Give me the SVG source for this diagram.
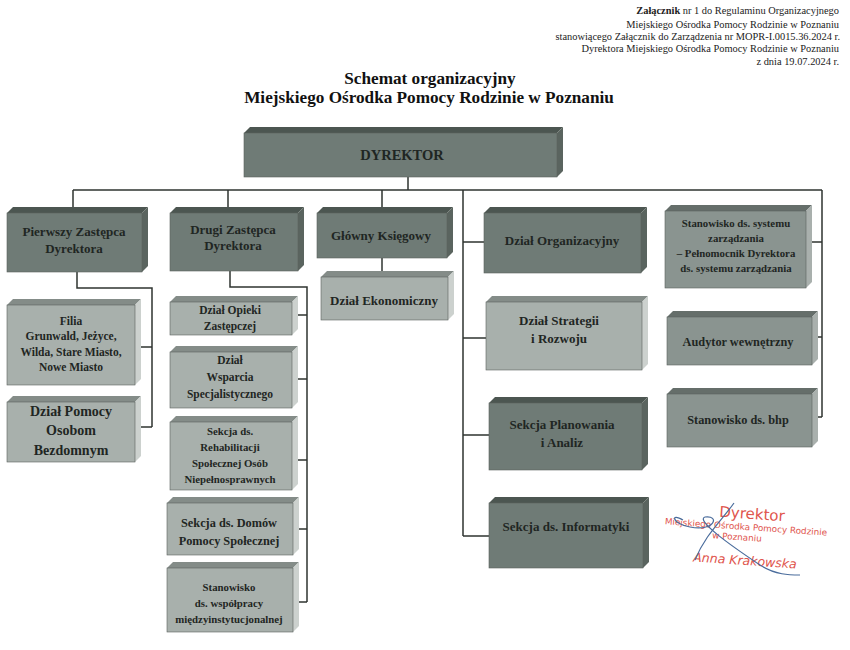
<svg xmlns="http://www.w3.org/2000/svg" width="850" height="650" viewBox="0 0 850 650">
<style>
.dk .f{fill:#6f7b76}.dk .t{fill:#4c5651}.dk .s{fill:#5a645f}
.md .f{fill:#8a9490}.md .t{fill:#656e6a}.md .s{fill:#a9b0ad}
.lt .f{fill:#a8b0ac}.lt .t{fill:#848c88}.lt .s{fill:#ccd1ce}
.f{stroke:#5a625e;stroke-width:0.6}
.lbl{font-family:"Liberation Serif",serif;font-weight:bold;fill:#1f2623;text-anchor:middle}
.hd{font-family:"Liberation Serif",serif;font-size:10.4px;fill:#222;text-anchor:end}
.ttl{font-family:"Liberation Serif",serif;font-weight:bold;font-size:17.2px;fill:#111;text-anchor:middle}
.con{fill:none;stroke:#2f3431;stroke-width:1.5}
.stamp{font-family:"DejaVu Sans",sans-serif;fill:#e0544c}
</style>
<rect width="850" height="650" fill="#fff"/>
<g id="header">
<text class="hd" x="839" y="14"><tspan font-weight="bold">Załącznik</tspan> nr 1 do Regulaminu Organizacyjnego</text>
<text class="hd" x="839" y="28">Miejskiego Ośrodka Pomocy Rodzinie w Poznaniu</text>
<text class="hd" x="840" y="40">stanowiącego Załącznik do Zarządzenia nr MOPR-I.0015.36.2024 r.</text>
<text class="hd" x="839" y="52">Dyrektora Miejskiego Ośrodka Pomocy Rodzinie w Poznaniu</text>
<text class="hd" x="839" y="65">z dnia 19.07.2024 r.</text>
</g>
<g id="title">
<text class="ttl" x="430" y="84">Schemat organizacyjny</text>
<text class="ttl" x="429" y="103">Miejskiego Ośrodka Pomocy Rodzinie w Poznaniu</text>
</g>
<g id="connectors">
<path class="con" d="M408 177V190M73 190H822M73 190V207M228 190V207M382 190V207M463 190V536M822 190V417"/>
<path class="con" d="M77 272V288H152V427M135 347H152M135 427H152"/>
<path class="con" d="M230 271V287H307V602M292 315H307M292 379H307M292 460H307M293 529H307M293 602H307"/>
<path class="con" d="M382 258V271"/>
<path class="con" d="M463 242H484M463 338H486M463 435H489M463 536H489"/>
<path class="con" d="M806 242H822M812 337H822M812 417H822"/>
</g>
<g id="dyrektor" class="dk">
<polygon class="t" points="244,133 250,127 563,127 557,133"/><polygon class="s" points="557,133 563,127 563,171 557,177"/><rect class="f" x="244" y="133" width="313" height="44"/>
<text class="lbl" x="402" y="160" font-size="14.5">DYREKTOR</text>
</g>
<g id="pierwszy" class="dk">
<polygon class="t" points="7,213 13,207 148,207 142,213"/><polygon class="s" points="142,213 148,207 148,266 142,272"/><rect class="f" x="7" y="213" width="135" height="59"/>
<text class="lbl" x="74" y="236" font-size="13">Pierwszy Zastępca</text><text class="lbl" x="74" y="253" font-size="13">Dyrektora</text>
</g>
<g id="drugi" class="dk">
<polygon class="t" points="170,213 176,207 304,207 298,213"/><polygon class="s" points="298,213 304,207 304,265 298,271"/><rect class="f" x="170" y="213" width="128" height="58"/>
<text class="lbl" x="233" y="234" font-size="13">Drugi Zastępca</text><text class="lbl" x="233" y="250" font-size="13">Dyrektora</text>
</g>
<g id="glowny" class="dk">
<polygon class="t" points="317,213 323,207 453,207 447,213"/><polygon class="s" points="447,213 453,207 453,252 447,258"/><rect class="f" x="317" y="213" width="130" height="45"/>
<text class="lbl" x="381" y="240" font-size="13">Główny Księgowy</text>
</g>
<g id="ekonomiczny" class="lt">
<polygon class="t" points="321,277 327,271 454,271 448,277"/><polygon class="s" points="448,277 454,271 454,314 448,320"/><rect class="f" x="321" y="277" width="127" height="43"/>
<text class="lbl" x="384" y="305" font-size="13">Dział Ekonomiczny</text>
</g>
<g id="organizacyjny" class="dk">
<polygon class="t" points="484,213 490,207 647,207 641,213"/><polygon class="s" points="641,213 647,207 647,267 641,273"/><rect class="f" x="484" y="213" width="157" height="60"/>
<text class="lbl" x="562" y="245" font-size="13">Dział Organizacyjny</text>
</g>
<g id="system" class="md">
<polygon class="t" points="665,211 671,205 812,205 806,211"/><polygon class="s" points="806,211 812,205 812,282 806,288"/><rect class="f" x="665" y="211" width="141" height="77"/>
<text class="lbl" x="736" y="227" font-size="10.8">Stanowisko ds. systemu</text><text class="lbl" x="736" y="242" font-size="10.8">zarządzania</text><text class="lbl" x="736" y="257" font-size="10.8">– Pełnomocnik Dyrektora</text><text class="lbl" x="736" y="272" font-size="10.8">ds. systemu zarządzania</text>
</g>
<g id="filia" class="lt">
<polygon class="t" points="7,305 13,299 141,299 135,305"/><polygon class="s" points="135,305 141,299 141,379 135,385"/><rect class="f" x="7" y="305" width="128" height="80"/>
<text class="lbl" x="71" y="325" font-size="11.5">Filia</text><text class="lbl" x="71" y="340" font-size="11.5">Grunwald, Jeżyce,</text><text class="lbl" x="71" y="356" font-size="11.5">Wilda, Stare Miasto,</text><text class="lbl" x="71" y="371" font-size="11.5">Nowe Miasto</text>
</g>
<g id="bezdomni" class="lt">
<polygon class="t" points="7,402 13,396 141,396 135,402"/><polygon class="s" points="135,402 141,396 141,456 135,462"/><rect class="f" x="7" y="402" width="128" height="60"/>
<text class="lbl" x="71" y="416" font-size="14">Dział Pomocy</text><text class="lbl" x="71" y="435" font-size="14">Osobom</text><text class="lbl" x="71" y="455" font-size="14">Bezdomnym</text>
</g>
<g id="opieki" class="lt">
<polygon class="t" points="170,302 176,296 298,296 292,302"/><polygon class="s" points="292,302 298,296 298,329 292,335"/><rect class="f" x="170" y="302" width="122" height="33"/>
<text class="lbl" x="230" y="314" font-size="11.5">Dział Opieki</text><text class="lbl" x="230" y="330" font-size="11.5">Zastępczej</text>
</g>
<g id="wsparcia" class="lt">
<polygon class="t" points="170,352 176,346 298,346 292,352"/><polygon class="s" points="292,352 298,346 298,402 292,408"/><rect class="f" x="170" y="352" width="122" height="56"/>
<text class="lbl" x="230" y="364" font-size="11.5">Dział</text><text class="lbl" x="230" y="381" font-size="11.5">Wsparcia</text><text class="lbl" x="230" y="398" font-size="11.5">Specjalistycznego</text>
</g>
<g id="rehabilitacji" class="lt">
<polygon class="t" points="170,422 176,416 298,416 292,422"/><polygon class="s" points="292,422 298,416 298,484 292,490"/><rect class="f" x="170" y="422" width="122" height="68"/>
<text class="lbl" x="230" y="435" font-size="10.8">Sekcja ds.</text><text class="lbl" x="230" y="451" font-size="10.8">Rehabilitacji</text><text class="lbl" x="230" y="467" font-size="10.8">Społecznej Osób</text><text class="lbl" x="230" y="483" font-size="10.8">Niepełnosprawnych</text>
</g>
<g id="domow" class="lt">
<polygon class="t" points="167,503 173,497 299,497 293,503"/><polygon class="s" points="293,503 299,497 299,549 293,555"/><rect class="f" x="167" y="503" width="126" height="52"/>
<text class="lbl" x="229" y="527" font-size="12.3">Sekcja ds. Domów</text><text class="lbl" x="229" y="545" font-size="12.3">Pomocy Społecznej</text>
</g>
<g id="wspolpracy" class="lt">
<polygon class="t" points="167,568 173,562 299,562 293,568"/><polygon class="s" points="293,568 299,562 299,626 293,632"/><rect class="f" x="167" y="568" width="126" height="64"/>
<text class="lbl" x="229" y="591" font-size="10.8">Stanowisko</text><text class="lbl" x="229" y="607" font-size="10.8">ds. współpracy</text><text class="lbl" x="229" y="623" font-size="10.8">międzyinstytucjonalnej</text>
</g>
<g id="strategii" class="lt">
<polygon class="t" points="486,302 492,296 648,296 642,302"/><polygon class="s" points="642,302 648,296 648,364 642,370"/><rect class="f" x="486" y="302" width="156" height="68"/>
<text class="lbl" x="559" y="325" font-size="13">Dział Strategii</text><text class="lbl" x="559" y="343" font-size="13">i Rozwoju</text>
</g>
<g id="planowania" class="dk">
<polygon class="t" points="489,403 495,397 648,397 642,403"/><polygon class="s" points="642,403 648,397 648,464 642,470"/><rect class="f" x="489" y="403" width="153" height="67"/>
<text class="lbl" x="562" y="429" font-size="13">Sekcja Planowania</text><text class="lbl" x="562" y="447" font-size="13">i Analiz</text>
</g>
<g id="informatyki" class="dk">
<polygon class="t" points="489,503 495,497 649,497 643,503"/><polygon class="s" points="643,503 649,497 649,562 643,568"/><rect class="f" x="489" y="503" width="154" height="65"/>
<text class="lbl" x="566" y="531" font-size="13">Sekcja ds. Informatyki</text>
</g>
<g id="audytor" class="md">
<polygon class="t" points="667,317 673,311 818,311 812,317"/><polygon class="s" points="812,317 818,311 818,359 812,365"/><rect class="f" x="667" y="317" width="145" height="48"/>
<text class="lbl" x="738" y="346" font-size="12.3">Audytor wewnętrzny</text>
</g>
<g id="bhp" class="md">
<polygon class="t" points="667,394 673,388 818,388 812,394"/><polygon class="s" points="812,394 818,388 818,441 812,447"/><rect class="f" x="667" y="394" width="145" height="53"/>
<text class="lbl" x="738" y="424" font-size="12.3">Stanowisko ds. bhp</text>
</g>
<g id="stamp">
<text class="stamp" x="752" y="519" font-size="15" text-anchor="middle" transform="rotate(4 752 515)">Dyrektor</text>
<text class="stamp" x="746" y="530" font-size="8.8" text-anchor="middle" transform="rotate(4 746 527)">Miejskiego Ośrodka Pomocy Rodzinie</text>
<text class="stamp" x="737" y="540" font-size="8.8" text-anchor="middle" transform="rotate(4 737 537)">w Poznaniu</text>
<text class="stamp" x="745" y="565" font-size="12.5" font-style="italic" text-anchor="middle" transform="rotate(4 745 561)">Anna Krakowska</text>
<path d="M734 503C722 520 705 535 695 560M683 520C670 512 672 524 690 527C715 532 720 515 705 517C695 520 730 545 760 565C775 575 790 575 800 575" fill="none" stroke="#4a6c9c" stroke-width="1.2"/>
</g>
</svg>
